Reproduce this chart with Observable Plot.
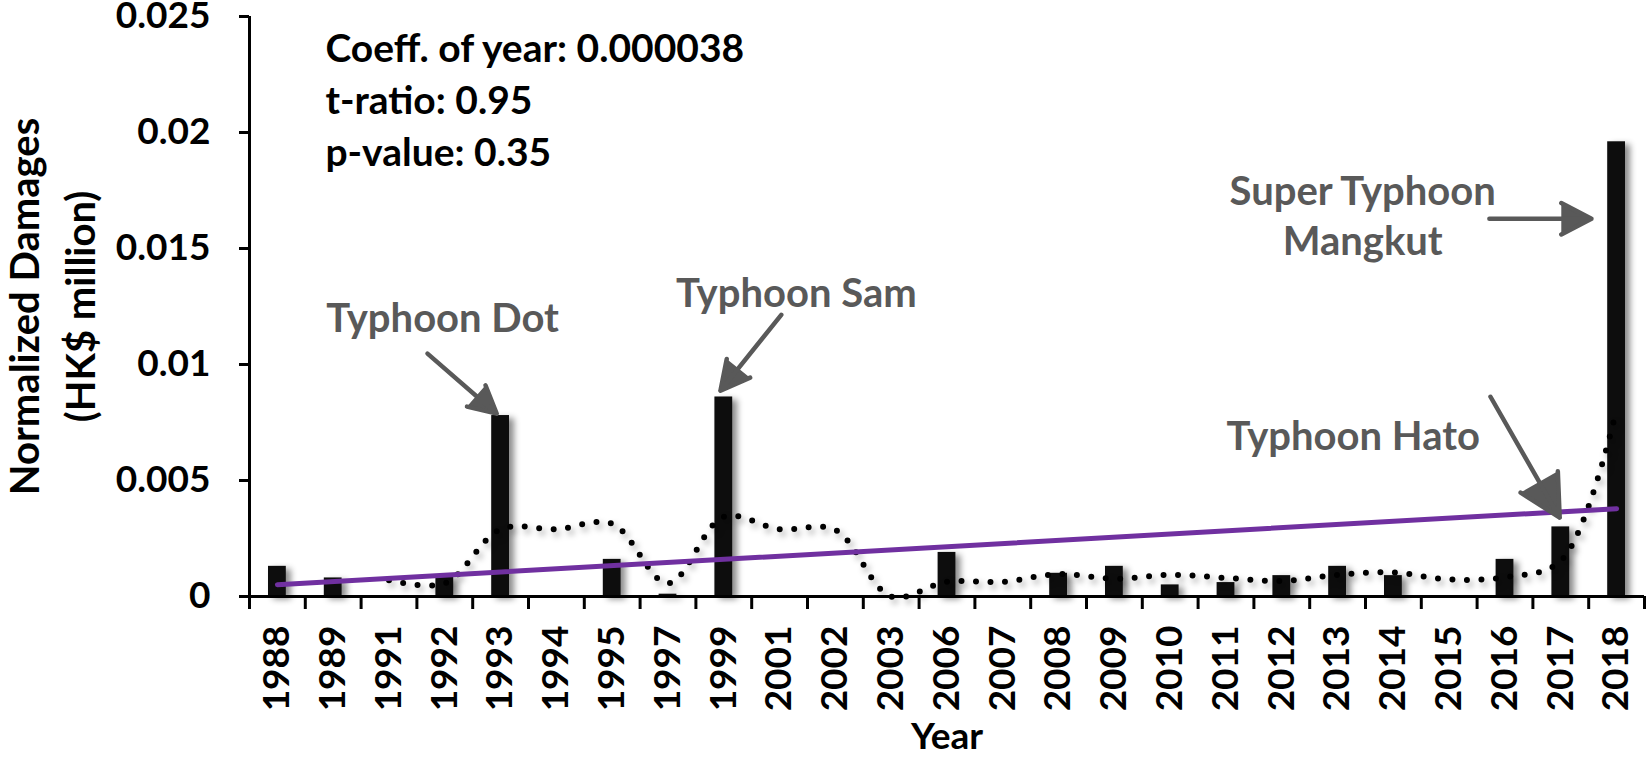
<!DOCTYPE html>
<html>
<head>
<meta charset="utf-8">
<script src="https://cdn.jsdelivr.net/npm/d3@7"></script>
<script src="https://cdn.jsdelivr.net/npm/@observablehq/plot@0.6"></script>
<style>
  html, body { margin: 0; padding: 0; background: #fff; }
  #chart svg g[aria-label="rect"] { filter: drop-shadow(5px 3px 3px rgba(0,0,0,0.45)); }
  #chart svg g[aria-label="line"] { filter: drop-shadow(3px 4px 3px rgba(0,0,0,0.35)); }
  #chart svg g[aria-label="arrow"] path { fill: #595959; }
</style>
</head>
<body>
<div id="chart"></div>
<script>
// ---- data ----
const years = ["1988","1989","1991","1992","1993","1994","1995","1997","1999","2001","2002","2003",
               "2006","2007","2008","2009","2010","2011","2012","2013","2014","2015","2016","2017","2018"];
const damages = [0.0013, 0.0008, 0, 0.0009, 0.0078, 0, 0.0016, 0.0001, 0.0086, 0, 0, 0,
                 0.0019, 0, 0.0010, 0.0013, 0.0005, 0.0006, 0.0009, 0.0013, 0.0009, 0, 0.0016, 0.0030, 0.0196];
const yTicks = [0, 0.005, 0.01, 0.015, 0.02, 0.025];

// regression statistics text (anchored in data space: category index, damage value)
const statText = ["Coeff. of year: 0.000038", "t-ratio: 0.95", "p-value: 0.35"];
const statX = [0.86, 0.86, 0.86];
const statY = [0.02356, 0.02132, 0.01908];

// typhoon annotations
const typhoonNames = ["Typhoon Dot", "Typhoon Sam", "Typhoon Hato", "Super Typhoon\nMangkut"];
const typhoonX = [2.96, 9.30, 19.28, 19.45];
const typhoonY = [0.01210, 0.01318, 0.00700, 0.01649];
const arrowX1 = [2.69, 9.03, 21.74, 21.72];
const arrowY1 = [0.01047, 0.01214, 0.00861, 0.01628];
const arrowX2 = [3.93, 7.94, 22.98, 23.55];
const arrowY2 = [0.00788, 0.00887, 0.00340, 0.01628];

const axisTitleX = [{label: "Year", x: 12}];
const axisTitleY = ["Normalized Damages\n(HK$ million)"];

// ---- tables built from the arrays ----
const data = years.map((year, i) => ({i, year, value: damages[i]}));
const stats = statText.map((t, k) => ({t, x: statX[k], y: statY[k]}));
const notes = typhoonNames.map((t, k) => ({t, x: typhoonX[k], y: typhoonY[k]}));
const arrows = arrowX1.map((x1, k) => ({x1, y1: arrowY1[k], x2: arrowX2[k], y2: arrowY2[k]}));
const centers = years.map((_, i) => i);
const bounds = d3.range(years.length + 1).map(i => i - 0.5);

const gray = "#595959";

const chart = Plot.plot({
  width: 1650,
  height: 764,
  marginLeft: 249,
  marginRight: 6,
  marginTop: 16,
  marginBottom: 168,
  style: {fontFamily: "Lato, 'Open Sans', sans-serif", fontSize: "36px", fontWeight: "bold", color: "black", background: "white"},
  x: {type: "linear", domain: [-0.5, years.length - 0.5]},
  y: {domain: [0, 0.025]},
  marks: [
    // bars
    Plot.rectY(data, {x1: d => d.i - 0.5, x2: d => d.i + 0.5, y: "value", insetLeft: 19, insetRight: 19, fill: "#0d0d0d"}),
    // 3-period moving average (Excel style trendline)
    Plot.lineY(data, Plot.windowY({k: 3, anchor: "end", reduce: "mean", strict: true},
      {x: "i", y: "value", curve: "catmull-rom", stroke: "black", strokeWidth: 6,
       strokeDasharray: "0 14.5", strokeLinecap: "round"})),
    // linear trend
    Plot.linearRegressionY(data, {x: "i", y: "value", stroke: "#7030A0", strokeWidth: 5, ci: 0}),
    // axes lines
    Plot.ruleX([-0.5], {stroke: "black", strokeWidth: 3}),
    Plot.ruleY([0], {stroke: "black", strokeWidth: 3}),
    Plot.axisY({ticks: yTicks, tickFormat: d3.format("~g"), tickSize: 10, tickPadding: 29,
                strokeWidth: 3, label: null, fontSize: 37}),
    Plot.axisX({ticks: bounds, tickFormat: () => "", tickSize: 13, strokeWidth: 3, label: null}),
    Plot.axisX({ticks: centers, tickFormat: i => years[i], tickSize: 0, tickPadding: 29,
                tickRotate: -90, label: null, fontSize: 37}),
    // stats text
    Plot.text(stats, {x: "x", y: "y", text: "t", textAnchor: "start", fill: "black", fontSize: 39}),
    // annotations
    Plot.arrow(arrows, {x1: "x1", y1: "y1", x2: "x2", y2: "y2", stroke: gray, strokeWidth: 4.5,
                        headLength: 26, headAngle: 55, strokeLinejoin: "miter"}),
    Plot.text(notes, {x: "x", y: "y", text: "t", fill: gray, fontSize: 40, lineHeight: 1.25}),
    // axis titles
    Plot.text(axisTitleX, {x: "x", frameAnchor: "bottom", dy: 152, text: "label", fill: "black", fontSize: 37}),
    Plot.text(axisTitleY, {frameAnchor: "left", dx: -200, rotate: -90, textAnchor: "middle",
                           lineAnchor: "middle", lineHeight: 1.4, fill: "black", fontSize: 40})
  ]
});
document.getElementById("chart").appendChild(chart);
</script>
</body>
</html>
